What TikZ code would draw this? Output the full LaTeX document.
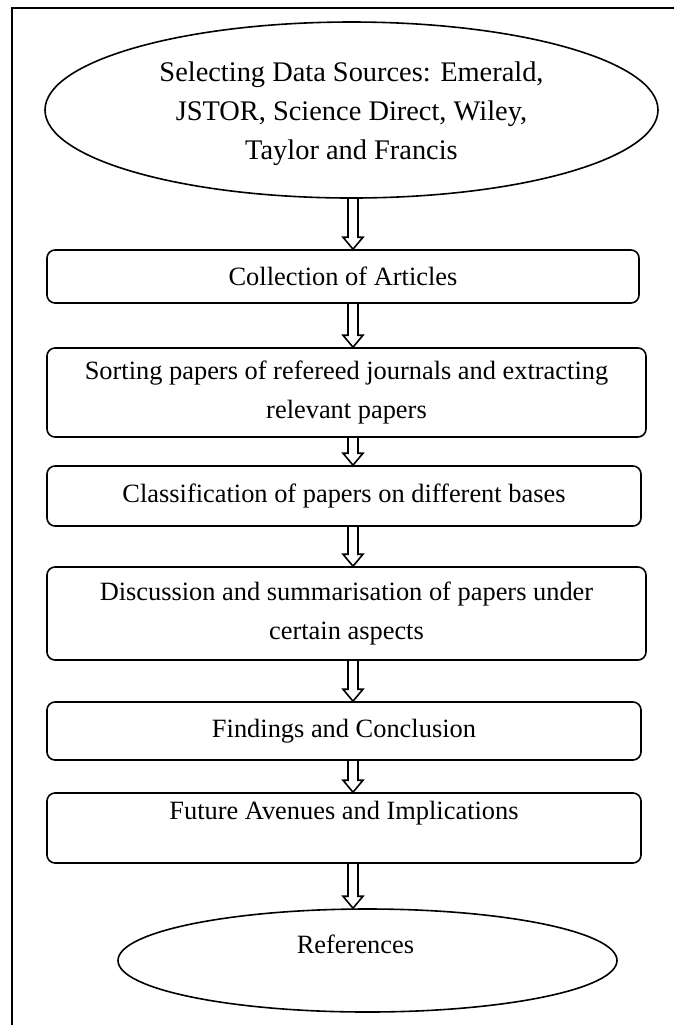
\documentclass[tikz,border=0pt]{standalone}
\usepackage{fontspec}
\setmainfont{Liberation Serif}
\usetikzlibrary{shapes.geometric,calc}

\tikzset{
  stage/.style={draw, line width=0.8pt, rounded corners=4pt, align=center, inner sep=3pt},
  terminal/.style={draw, line width=0.8pt, ellipse, align=center, inner sep=0pt},
}
% hollow block arrow between two nodes, on the common axis
\newcommand{\hollowarrow}[2]{%
  \draw[line width=0.8pt, line join=miter]
    ($(#1.south -| axis)+(-5,0)$) -- ($(#2.north -| axis)+(-5,-12)$)
    -- ($(#2.north -| axis)+(-10,-12)$) -- (#2.north -| axis)
    -- ($(#2.north -| axis)+(10,-12)$) -- ($(#2.north -| axis)+(5,-12)$)
    -- ($(#1.south -| axis)+(5,0)$);}

\begin{document}
\begin{tikzpicture}[x=0.5pt, y=-0.5pt, font=\fontsize{13.2}{19.6}\selectfont]
    \useasboundingbox (0,0) rectangle (674,1025);
    % Frame
    \draw[line width=0.6pt] (674,8) -- (12,8) -- (12,1025);
    \coordinate (axis) at (353,0);
    % Stages
    \node[terminal, minimum width=306.5pt, minimum height=88pt,
          font=\fontsize{14.2}{19.5}\selectfont] (sources) at (351.5,110)
        {\rule{0pt}{14pt}Selecting Data Sources: Emerald,\\ JSTOR, Science Direct, Wiley,\\ Taylor and Francis};
    \node[stage, minimum width=296pt, minimum height=26.5pt] (collect) at (343,276.5)
        {Collection of Articles};
    \node[stage, minimum width=299.5pt, minimum height=44.5pt] (sort) at (346.5,392.5)
        {Sorting papers of refereed journals and extracting\\ relevant papers};
    \node[stage, minimum width=297pt, minimum height=30pt] (classify) at (344,496)
        {Classification of papers on different bases};
    \node[stage, minimum width=299.5pt, minimum height=46.5pt] (discuss) at (346.5,613.5)
        {Discussion and summarisation of papers under\\ certain aspects};
    \node[stage, minimum width=297pt, minimum height=29pt] (findings) at (344,731)
        {Findings and Conclusion};
    \node[stage, minimum width=297pt, minimum height=35pt, text depth=18pt] (future) at (344,828)
        {Future Avenues and Implications};
    \node[terminal, minimum width=249.5pt, minimum height=51.5pt, text depth=16pt] (refs) at (367.5,960.5)
        {References\hspace*{12pt}};
    % Arrows
    \foreach \a/\b in {sources/collect, collect/sort, sort/classify, classify/discuss,
                       discuss/findings, findings/future, future/refs}
        \hollowarrow{\a}{\b};
\end{tikzpicture}
\end{document}
